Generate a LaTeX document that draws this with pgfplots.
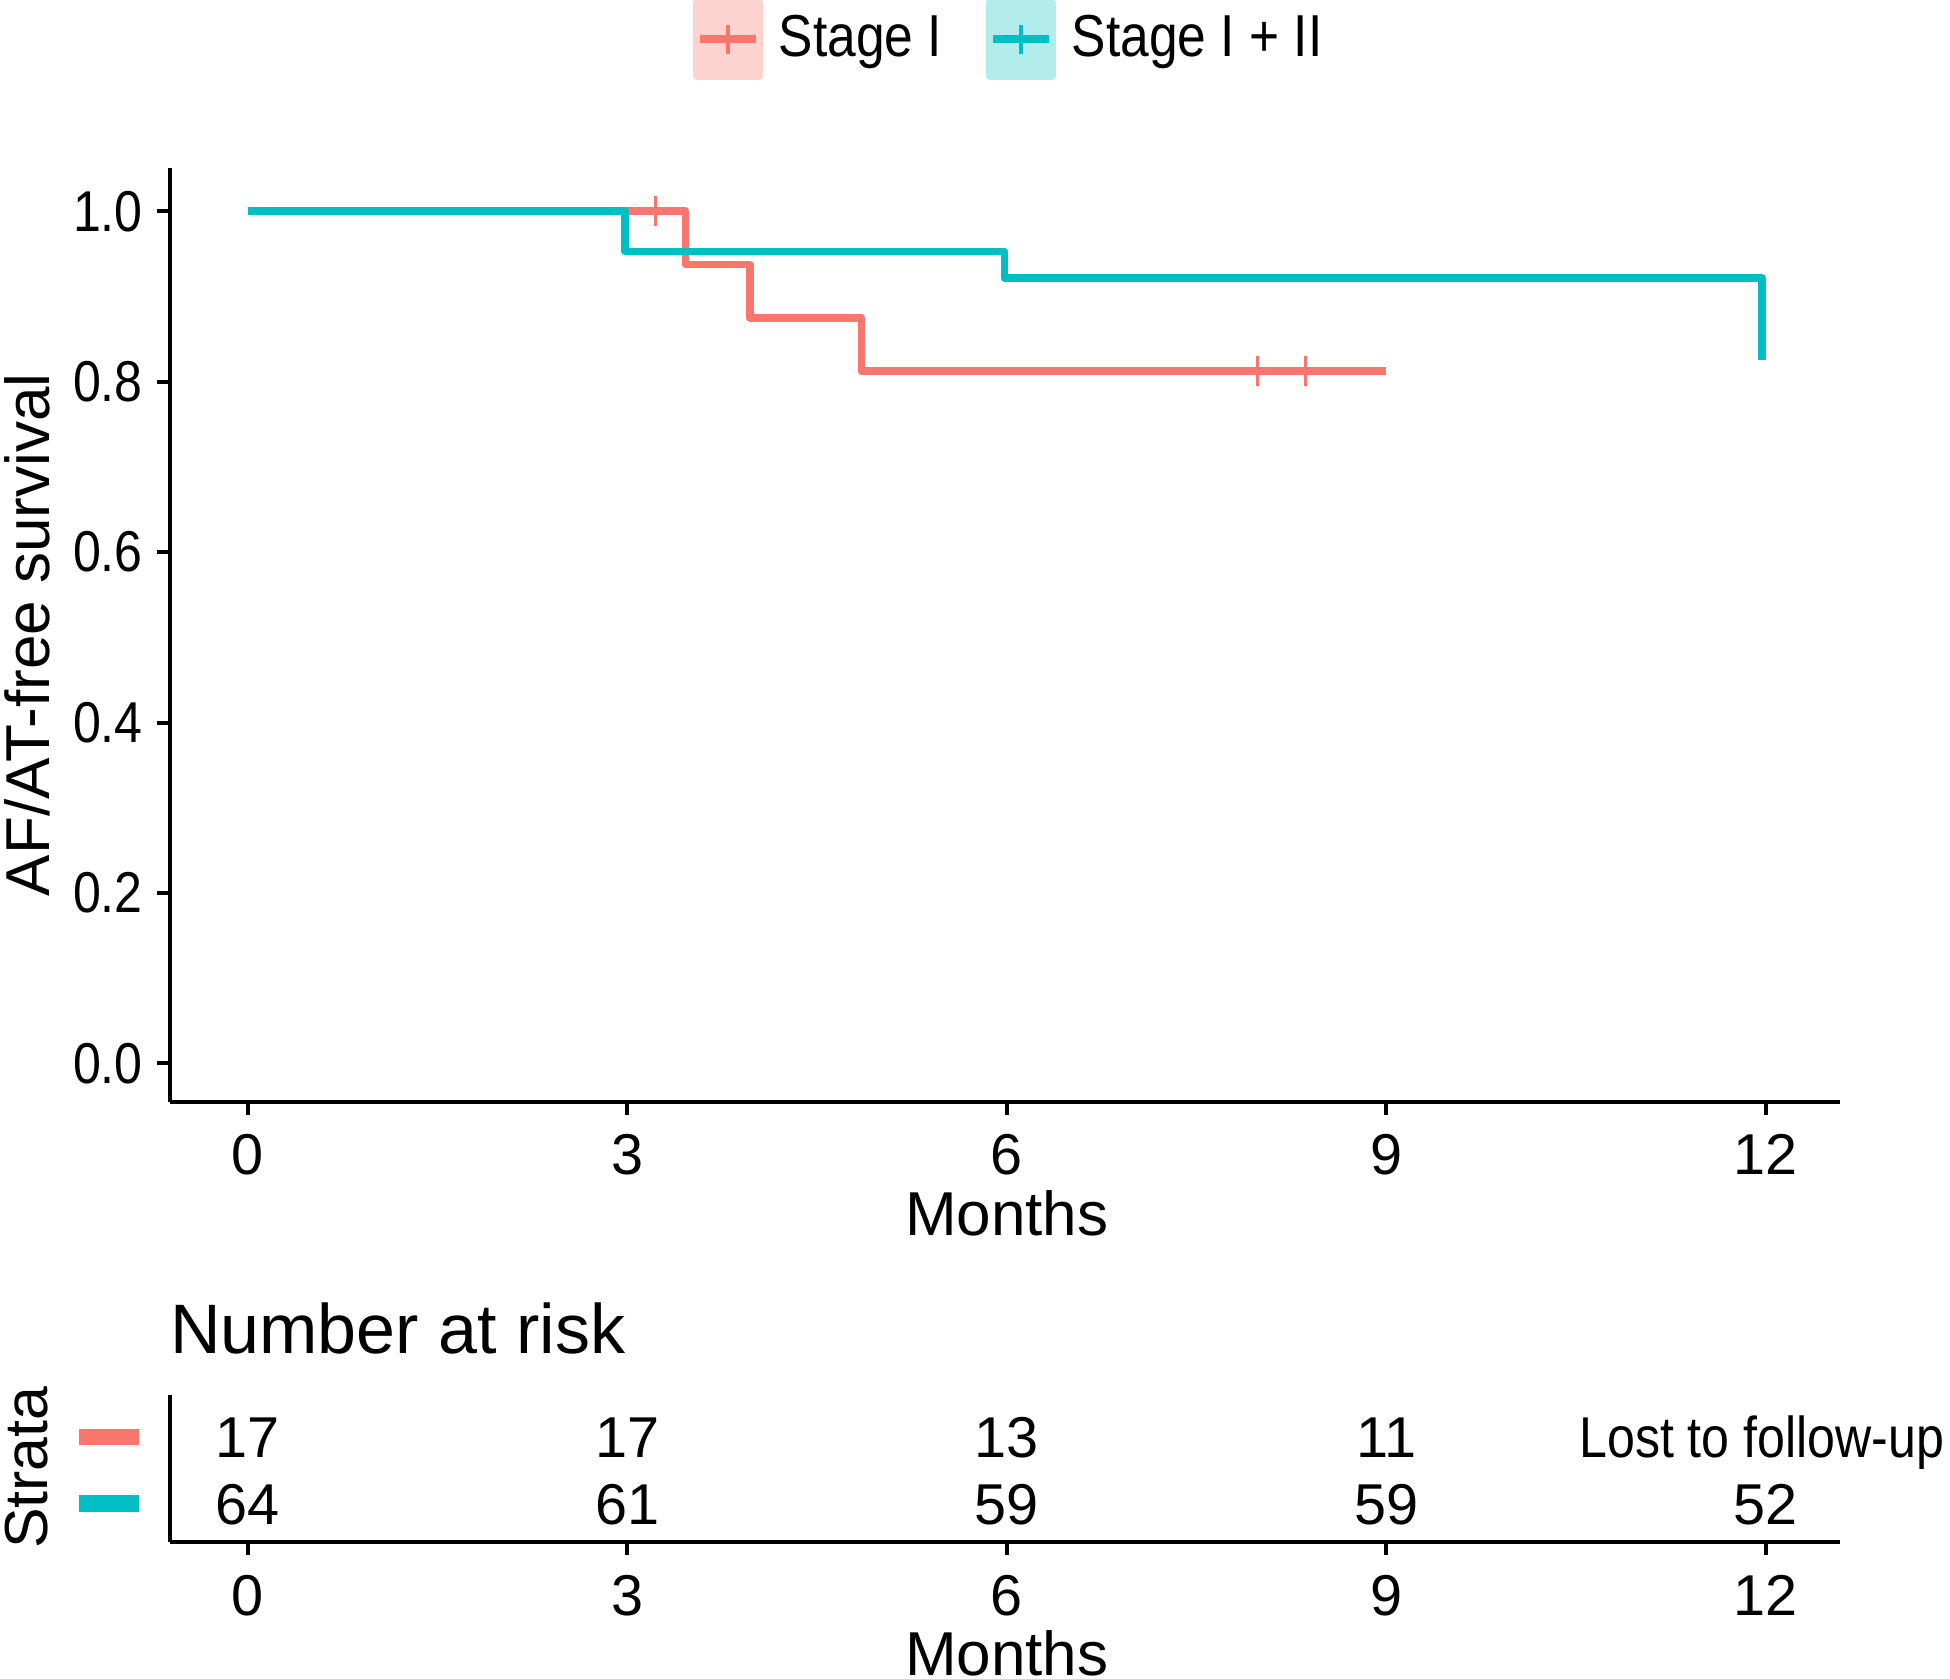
\documentclass[border=0pt]{standalone}
\usepackage{fontspec}
\setmainfont{Liberation Sans}
\newfontfamily\narrowfont{Liberation Sans}[FakeStretch=0.87]
\usepackage{pgfplots}
\pgfplotsset{compat=1.18}
\definecolor{ggred}{HTML}{F8766D}
\definecolor{ggteal}{HTML}{00BFC4}

\pgfplotsset{
  kmaxis/.style={
    scale only axis,
    width=417.5pt,
    xmin=-0.613, xmax=12.59,
    axis x line*=bottom,
    axis y line*=left,
    axis line style={line width=1pt, black, -},
    tick align=outside,
    major tick length=3.3pt,
    tick style={line width=1pt, black},
    xtick={0,3,6,9,12},
    xticklabels={0,3,6,9,12},
    ticklabel style={font=\fontsize{14.4}{17}\selectfont},
    xticklabel style={inner sep=0pt, yshift=-4.7pt},
    /pgf/number format/assume math mode=true,
    clip=false,
  }
}

\begin{document}
\begin{tikzpicture}

% survival curves
\begin{axis}[
  kmaxis,
  at={(42.6pt,-275.45pt)}, anchor=south west,
  height=233.5pt,
  ymin=-0.045, ymax=1.051,
  ytick={0,0.2,0.4,0.6,0.8,1},
  yticklabels={0.0,0.2,0.4,0.6,0.8,1.0},
  yticklabel style={inner sep=0pt, xshift=-3.4pt, font=\narrowfont\fontsize{14.4}{17}\selectfont},
  legend style={at={(0.5037,1.1377)}, anchor=center, draw=none, fill=none,
    legend columns=2, font=\narrowfont\fontsize{14.8}{17}\selectfont,
    /tikz/every even column/.append style={column sep=9pt}},
]
\addplot[const plot, ggred, line width=1.9pt, line join=round,
  legend image code/.code={
    \fill[ggred!32] (0pt,-9.15pt) rectangle (15.6pt,9.15pt);
    \draw[line width=1.9pt] (0.8pt,0pt) -- (14.8pt,0pt);
    \draw[line width=0.9pt] (7.8pt,-3.6pt) -- (7.8pt,3.6pt);
    \path (17.6pt,0pt);}]
  coordinates {(0,1) (3.46,0.9375) (3.97,0.875) (4.85,0.8125) (9.0,0.8125)};
\addlegendentry{Stage I}
\addplot[const plot, ggteal, line width=1.9pt, line join=round,
  legend image code/.code={
    \fill[ggteal!30] (0pt,-9.15pt) rectangle (15.6pt,9.15pt);
    \draw[line width=1.9pt] (0.8pt,0pt) -- (14.8pt,0pt);
    \draw[line width=0.9pt] (7.8pt,-3.6pt) -- (7.8pt,3.6pt);
    \path (17.6pt,0pt);}]
  coordinates {(0,1) (2.98,0.953) (5.98,0.922) (11.97,0.825)};
\addlegendentry{Stage I + II}
% censoring marks
\addplot[forget plot, only marks, ggred, mark=|, mark size=3.75pt,
  mark options={line width=0.8pt}]
  coordinates {(3.22,1) (7.98,0.8125) (8.36,0.8125)};
\end{axis}

% risk table
\begin{axis}[
  kmaxis,
  at={(42.6pt,-385.5pt)}, anchor=south west,
  height=36.75pt,
  ymin=0.42, ymax=2.63,
  ytick={1,2},
  yticklabels={\textcolor{ggteal}{\rule{15pt}{4.2pt}},\textcolor{ggred}{\rule{15pt}{4.2pt}}},
  y tick style={draw=none},
  yticklabel style={inner sep=0pt, xshift=-4.3pt},
]
\addplot[draw=none, point meta=explicit symbolic, nodes near coords,
  nodes near coords style={anchor=base, yshift=-5.2pt, inner sep=0pt,
    text=black, font=\fontsize{14.4}{17}\selectfont}]
  coordinates {
    (0,2) [17] (3,2) [17] (6,2) [13] (9,2) [11]
    (0,1) [64] (3,1) [61] (6,1) [59] (9,1) [59] (12,1) [52]
  };
\addplot[draw=none, point meta=explicit symbolic, nodes near coords,
  nodes near coords style={anchor=base, yshift=-5.2pt, xshift=-1pt, inner sep=0pt,
    text=black, font=\narrowfont\fontsize{14.4}{17}\selectfont}]
  coordinates {(12,2) [Lost to follow-up]};
\end{axis}

% labels
\node[rotate=90, font=\fontsize{15.5}{18}\selectfont] at (6.8pt,-158.7pt) {AF/AT-free survival};
\node[anchor=base, inner sep=0pt, font=\fontsize{15.5}{18}\selectfont] at (251.7pt,-308.75pt) {Months};
\node[anchor=base, inner sep=0pt, font=\fontsize{15.5}{18}\selectfont] at (251.7pt,-418.8pt) {Months};
\node[anchor=base west, inner sep=0pt, font=\fontsize{17.5}{21}\selectfont] at (42.3pt,-338.3pt) {Number at risk};
\node[rotate=90, font=\fontsize{15.2}{18}\selectfont] at (6.6pt,-366.9pt) {Strata};

\pgfresetboundingbox
\path[use as bounding box] (0pt,0pt) rectangle (487.5pt,-419.75pt);
\end{tikzpicture}
\end{document}
